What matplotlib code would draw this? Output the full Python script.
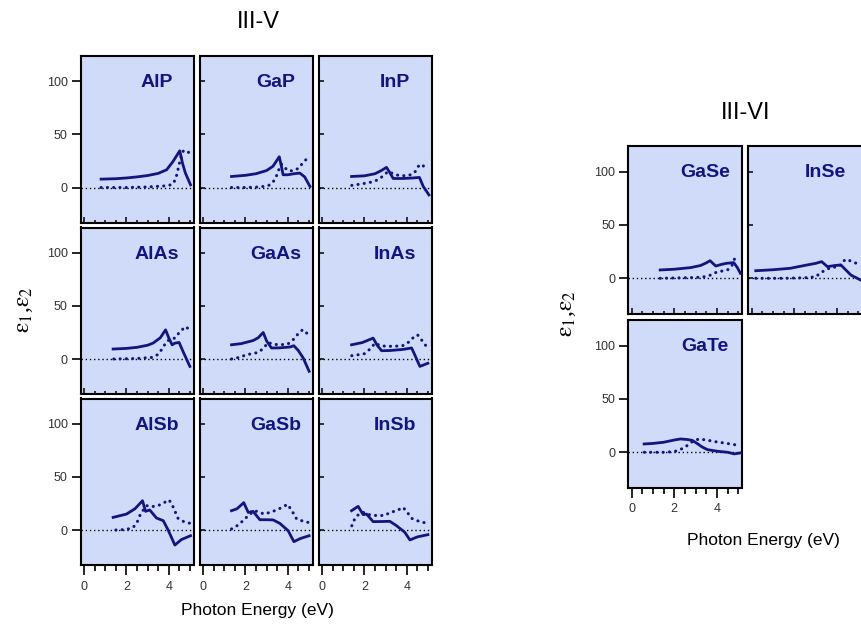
import matplotlib
matplotlib.use("Agg")
import matplotlib.pyplot as plt
from matplotlib.ticker import MultipleLocator, FixedLocator

plt.rcParams['font.family'] = ['Liberation Sans', 'DejaVu Sans']
plt.rcParams['mathtext.fontset'] = 'stix'

# dielectric function, eps1 (solid) and eps2 (dotted), vs photon energy in eV
alp_e1_x = [0.8, 1.5, 2.0, 2.5, 3.0, 3.5, 3.9, 4.2, 4.52, 4.65, 4.78, 5.03]
alp_e1_y = [7.9, 8.3, 9.0, 10.0, 11.3, 13.3, 16.7, 24.5, 34.6, 23, 14, 2.5]
alp_e2_x = [0.8, 2.0, 3.0, 3.8, 4.1, 4.2, 4.3, 4.38, 4.46, 4.53, 4.61, 4.7, 4.85, 4.95]
alp_e2_y = [0, 0, 0.5, 1.5, 2.5, 3.5, 7, 12, 19, 25, 31, 35, 34, 33]

gap_e1_x = [1.34, 2.0, 2.5, 3.0, 3.3, 3.6, 3.7, 3.78, 4.0, 4.3, 4.57, 4.8, 5.05]
gap_e1_y = [10.4, 11.5, 13, 16, 20, 29, 20, 12, 12, 13, 13.6, 10, 1]
gap_e2_x = [1.34, 2.0, 2.7, 3.1, 3.3, 3.45, 3.6, 3.7, 3.85, 4.0, 4.25, 4.5, 4.75, 5.0]
gap_e2_y = [0, 0, 0.5, 2, 5, 10, 18, 22, 19, 16, 15.7, 18, 24, 29]

inp_e1_x = [1.39, 2.0, 2.5, 2.8, 3.04, 3.2, 3.36, 3.8, 4.3, 4.6, 4.78, 5.05]
inp_e1_y = [10.4, 11, 13, 16, 19, 14, 8.5, 8.5, 9, 9.5, 1, -7]
inp_e2_x = [1.4, 1.9, 2.3, 2.6, 2.9, 3.1, 3.25, 3.45, 3.8, 4.2, 4.4, 4.55, 4.7, 4.85, 5.0]
inp_e2_y = [2, 3.5, 5, 7, 11, 15, 14, 12, 11, 12, 15, 20, 22, 19, 16.7]

alas_e1_x = [1.37, 2.0, 2.5, 3.0, 3.26, 3.6, 3.85, 4.0, 4.16, 4.3, 4.49, 4.7, 5.0]
alas_e1_y = [9.4, 10, 11, 13, 15, 20, 27.5, 20, 13.4, 15, 15.6, 6, -7]
alas_e2_x = [1.4, 2.5, 3.2, 3.4, 3.55, 3.7, 3.9, 4.1, 4.29, 4.5, 4.79, 5.03]
alas_e2_y = [0, 0.5, 1.5, 3, 5.6, 10, 16.5, 19, 19.7, 25, 30.6, 26.9]

gaas_e1_x = [1.34, 1.8, 2.36, 2.6, 2.84, 3.0, 3.23, 3.6, 4.1, 4.29, 4.5, 4.73, 5.01]
gaas_e1_y = [13.4, 14.5, 17.4, 20, 25, 17, 10.4, 10.5, 11.3, 12.5, 8, 1, -11.6]
gaas_e2_x = [1.34, 1.7, 2.05, 2.6, 2.85, 3.07, 3.3, 3.6, 4.0, 4.3, 4.5, 4.7, 4.85, 5.0]
gaas_e2_y = [0, 1.5, 4, 6.2, 10, 15.6, 14, 13.4, 14, 19, 24, 27.5, 26, 20.7]

inas_e1_x = [1.39, 1.9, 2.41, 2.6, 2.81, 3.2, 3.8, 4.23, 4.4, 4.62, 5.0]
inas_e1_y = [13.4, 15.5, 19.7, 13, 7.8, 8, 9, 10.4, 3, -7, -4]
inas_e2_x = [1.4, 1.7, 2.0, 2.3, 2.5, 2.7, 3.0, 3.4, 3.8, 4.1, 4.3, 4.51, 4.7, 5.0]
inas_e2_y = [3.1, 4, 5, 10, 15, 13, 12, 12, 12.5, 16, 20, 22.8, 18, 10]

alsb_e1_x = [1.37, 2.0, 2.4, 2.76, 2.9, 3.1, 3.42, 3.74, 3.97, 4.29, 4.6, 5.03]
alsb_e1_y = [11.9, 15, 20, 27.6, 17.6, 18.9, 11.3, 8.8, 0, -14.2, -9, -5.4]
alsb_e2_x = [1.5, 2.0, 2.32, 2.5, 2.63, 2.8, 2.95, 3.2, 3.5, 3.8, 4.02, 4.2, 4.44, 4.7, 5.03]
alsb_e2_y = [0, 0.5, 2.5, 7, 13.5, 19, 23, 22, 23, 26, 28.3, 22, 11, 8, 6.2]

gasb_e1_x = [1.34, 1.6, 1.92, 2.13, 2.36, 2.68, 3.0, 3.31, 3.63, 4.02, 4.29, 4.6, 5.01]
gasb_e1_y = [18.2, 20, 25.8, 16.6, 17.6, 9.7, 9.7, 9.5, 6.2, -0.7, -11, -8, -5.4]
gasb_e2_x = [1.34, 1.6, 1.89, 2.15, 2.44, 2.9, 3.31, 3.7, 3.99, 4.2, 4.42, 4.7, 5.0]
gasb_e2_y = [1, 4, 8.8, 14, 18.2, 15, 17.6, 21, 24.2, 18, 10.4, 8.5, 7]

insb_e1_x = [1.39, 1.7, 1.94, 2.1, 2.41, 2.8, 3.2, 3.52, 3.91, 4.15, 4.5, 5.0]
insb_e1_y = [18.2, 22.3, 14.5, 15, 7.9, 8, 8.2, 4, -2.2, -9.4, -6.5, -4.4]
insb_e2_x = [1.4, 1.57, 1.75, 1.94, 2.3, 2.7, 3.0, 3.2, 3.5, 3.83, 4.05, 4.23, 4.6, 5.0]
insb_e2_y = [4, 12, 15, 16.6, 14, 13.5, 14, 16.6, 18, 21.3, 16, 11, 8, 6.2]

gase_e1_x = [1.34, 2.0, 2.76, 3.23, 3.5, 3.67, 3.94, 4.2, 4.42, 4.78, 4.95, 5.09]
gase_e1_y = [7.8, 8.5, 10, 12, 14.5, 16.5, 11.5, 13, 14, 14.7, 10, 4.7]
gase_e2_x = [1.34, 2.5, 3.3, 3.5, 3.7, 4.0, 4.3, 4.5, 4.7, 4.84]
gase_e2_y = [0, 0.5, 1, 2, 3, 6, 7, 8, 12, 19.4]

inse_e1_x = [0.2, 1.0, 1.82, 2.6, 3.0, 3.28, 3.55, 3.9, 4.18, 4.4, 4.65, 5.1]
inse_e1_y = [7.1, 8, 9.4, 12.5, 14, 15.6, 10.9, 12, 12.5, 8, 3, -1.6]
inse_e2_x = [0.2, 1.5, 2.5, 2.8, 3.0, 3.3, 3.7, 4.1, 4.25, 4.4, 4.6, 4.83, 5.05]
inse_e2_y = [0, 0, 0.5, 1, 1.5, 6, 10, 11, 15, 17.8, 16.5, 14.7, 12.5]

gate_e1_x = [0.59, 1.0, 1.5, 2.0, 2.29, 2.6, 2.84, 3.08, 3.3, 3.55, 4.0, 4.5, 4.8, 5.09]
gate_e1_y = [7.8, 8.3, 9.4, 11.5, 12.5, 12, 11.2, 8.1, 5, 2.5, 1, 0, -1.5, -0.6]
gate_e2_x = [0.6, 1.5, 1.9, 2.05, 2.45, 2.84, 3.15, 3.5, 3.9, 4.4, 4.89]
gate_e2_y = [0, 0, 0.5, 1, 4, 10, 12.5, 11.5, 10, 8.5, 6.9]

x_ticks = [0, 2, 4]
y_ticks = [0, 50, 100]

navy = '#14147f'
face = '#cfdbf9'
W, H = 862, 627

fig = plt.figure(figsize=(W / 100, H / 100), dpi=100)


def panel(left, top, w, h, name, e1x, e1y, e2x, e2y, ylabels, xlabels):
    ax = fig.add_axes([left / W, 1 - (top + h) / H, w / W, h / H])
    ax.set_facecolor(face)
    ax.axhline(0, color='black', lw=1.0, ls=(0, (1, 2)), zorder=1)
    # round-capped zero-length dashes give separate dots
    ax.plot(e2x, e2y, color=navy, lw=2.2, ls=(0, (0.05, 2.0)),
            dash_capstyle='round', zorder=2)
    ax.plot(e1x, e1y, color=navy, lw=2.0, zorder=3)
    ax.text(3.45, 99, name, color=navy, fontsize=14, fontweight='bold',
            ha='center', va='center')
    ax.set_xlim(-0.15, 5.18)
    ax.set_ylim(-33, 124)
    for s in ax.spines.values():
        s.set_linewidth(1.5)
    ax.xaxis.set_major_locator(FixedLocator(x_ticks))
    ax.xaxis.set_minor_locator(MultipleLocator(0.5))
    ax.yaxis.set_major_locator(FixedLocator(y_ticks))
    if xlabels:
        ax.tick_params(axis='x', which='major', direction='out', length=7.5,
                       width=1.2, labelsize=9, pad=4, labelcolor='#333333')
        ax.tick_params(axis='x', which='minor', direction='out', length=4,
                       width=1.2)
    else:
        ax.tick_params(axis='x', which='major', direction='in', length=4,
                       width=1.1, labelbottom=False)
        ax.tick_params(axis='x', which='minor', direction='in', length=2,
                       width=1.1)
    if ylabels:
        ax.tick_params(axis='y', direction='out', length=6.5, width=1.2,
                       labelsize=9, pad=3, labelcolor='#333333')
    else:
        ax.tick_params(axis='y', direction='in', length=3.5, width=1.1,
                       labelleft=False)
    return ax


# III-V block, 3x3
cols = [81, 200, 319]
rows = [56, 227.5, 398.5]
pw, ph = 112.7, 166.5
iii_v = [
    ['AlP', alp_e1_x, alp_e1_y, alp_e2_x, alp_e2_y],
    ['GaP', gap_e1_x, gap_e1_y, gap_e2_x, gap_e2_y],
    ['InP', inp_e1_x, inp_e1_y, inp_e2_x, inp_e2_y],
    ['AlAs', alas_e1_x, alas_e1_y, alas_e2_x, alas_e2_y],
    ['GaAs', gaas_e1_x, gaas_e1_y, gaas_e2_x, gaas_e2_y],
    ['InAs', inas_e1_x, inas_e1_y, inas_e2_x, inas_e2_y],
    ['AlSb', alsb_e1_x, alsb_e1_y, alsb_e2_x, alsb_e2_y],
    ['GaSb', gasb_e1_x, gasb_e1_y, gasb_e2_x, gasb_e2_y],
    ['InSb', insb_e1_x, insb_e1_y, insb_e2_x, insb_e2_y],
]
for i, p in enumerate(iii_v):
    r, c = divmod(i, 3)
    panel(cols[c], rows[r], pw, ph, *p, ylabels=(c == 0), xlabels=(r == 2))

# III-VI block
panel(628.3, 146, 114, 167.5, 'GaSe', gase_e1_x, gase_e1_y, gase_e2_x, gase_e2_y,
      ylabels=True, xlabels=False)
panel(748.3, 146, 114, 167.5, 'InSe', inse_e1_x, inse_e1_y, inse_e2_x, inse_e2_y,
      ylabels=False, xlabels=False)
panel(628.3, 320, 114, 167.5, 'GaTe', gate_e1_x, gate_e1_y, gate_e2_x, gate_e2_y,
      ylabels=True, xlabels=True)

fig.text(258 / W, 1 - 22 / H, 'III-V', fontsize=17, ha='center', va='center')
fig.text(746 / W, 1 - 113 / H, 'III-VI', fontsize=17, ha='center', va='center')

ylab = r'$\mathrm{\varepsilon}_1$,$\mathrm{\varepsilon}_2$'
fig.text(25 / W, 1 - 310 / H, ylab, fontsize=17, rotation=90,
         ha='center', va='center', family='Liberation Serif')
fig.text(568 / W, 1 - 314 / H, ylab, fontsize=17, rotation=90,
         ha='center', va='center', family='Liberation Serif')

fig.text(257 / W, 1 - 610 / H, 'Photon Energy (eV)', fontsize=12.5,
         ha='center', va='center')
fig.text(763 / W, 1 - 540 / H, 'Photon Energy (eV)', fontsize=12.5,
         ha='center', va='center')

fig.savefig('out.png', dpi=100)
